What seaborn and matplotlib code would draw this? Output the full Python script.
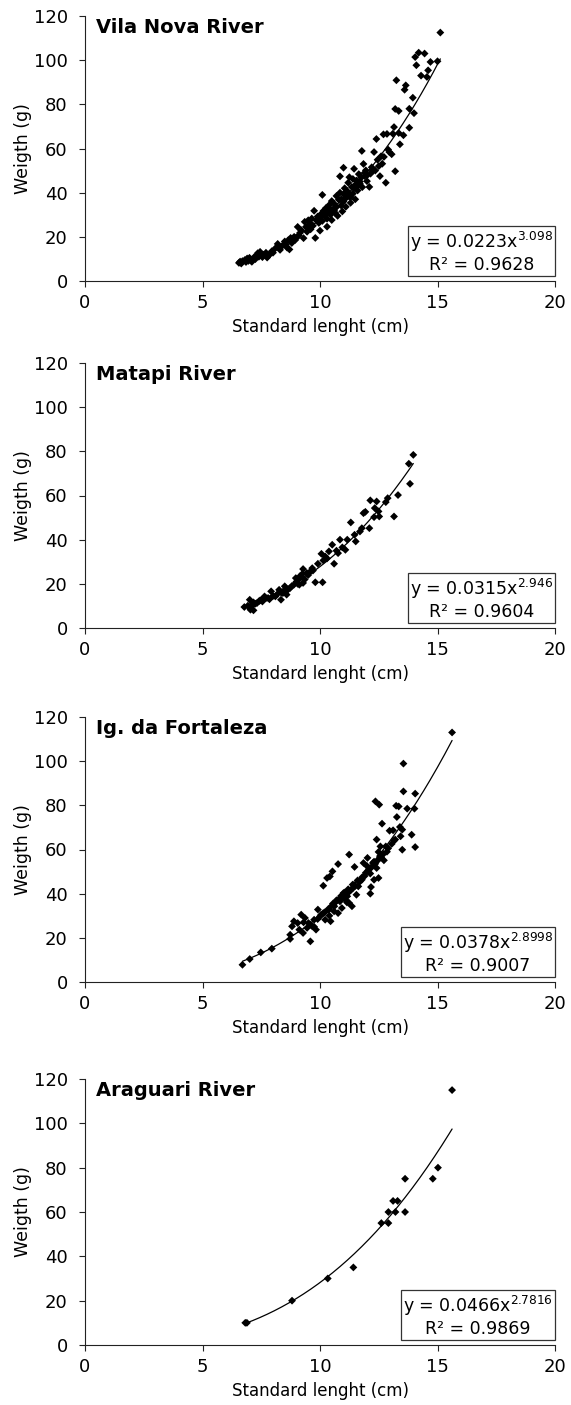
import numpy as np
import pandas as pd
import matplotlib
matplotlib.use("Agg")
import matplotlib.pyplot as plt
import seaborn as sns

# ---------------- data ----------------
sites = ["Vila Nova River", "Matapi River", "Ig. da Fortaleza", "Araguari River"]
fit_a = [0.0223, 0.0315, 0.0378, 0.0466]
fit_b = [3.098, 2.946, 2.8998, 2.7816]
fit_labels = ["y = 0.0223x$^{3.098}$\nR² = 0.9628",
              "y = 0.0315x$^{2.946}$\nR² = 0.9604",
              "y = 0.0378x$^{2.8998}$\nR² = 0.9007",
              "y = 0.0466x$^{2.7816}$\nR² = 0.9869"]

vn_length = [6.55, 6.6, 6.65, 6.7, 6.8, 6.85, 6.9, 6.95, 7.0, 7.05,
             7.1, 7.2, 7.25, 7.3, 7.35, 7.4, 7.45, 7.5, 7.55, 7.6, 7.7, 7.75, 7.8, 7.85, 7.95, 8.0,
             8.1, 8.2, 8.25, 8.3, 8.4, 8.5, 8.55, 8.6, 8.65, 8.7, 8.75, 8.8, 8.9, 8.95, 9.0,
             9.05, 9.1, 9.15, 9.2, 9.3, 9.35, 9.4, 9.45, 9.5, 9.55, 9.6, 9.65, 9.7, 9.75, 9.8, 9.85, 9.9, 9.95, 10.0, 10.0,
             10.05, 10.1, 10.1, 10.15, 10.2, 10.25, 10.3, 10.3, 10.35, 10.4, 10.45, 10.5, 10.5, 10.55, 10.6, 10.65,
             10.7, 10.7, 10.75, 10.8, 10.85, 10.85, 10.9, 10.95, 11.0, 11.0, 11.0,
             11.05, 11.1, 11.1, 11.15, 11.2, 11.25, 11.25, 11.3, 11.35, 11.4, 11.4, 11.45, 11.5, 11.5, 11.55, 11.6,
             11.65, 11.7, 11.75, 11.78, 11.8, 11.85, 11.9, 11.95, 12.0, 12.0,
             12.1, 12.15, 12.2, 12.3, 12.35, 12.4, 12.45, 12.5, 12.55, 12.6, 12.65, 12.7, 12.72, 12.8, 12.85, 12.9, 12.95, 13.05,
             13.1, 13.15, 13.2, 13.2, 13.25, 13.35, 13.35, 13.4, 13.55, 13.6, 13.65, 13.8, 13.8, 13.95, 14.0, 14.05,
             14.1, 14.2, 14.3, 14.45, 14.55, 14.6, 14.7, 15.0, 15.12,
             9.6, 9.9, 10.2, 10.4, 10.6, 10.9, 11.2, 11.45, 11.7, 12.25, 10.0, 10.45, 10.95, 11.3, 11.6, 11.9]
vn_weight = [8.2, 8.8, 7.9, 9.0, 9.5, 8.6, 10.2, 9.1, 10.5, 9.3,
             8.7, 10.8, 9.9, 11.5, 12.6, 11.0, 13.2, 12.2, 10.8, 11.9, 12.8, 10.6, 11.4, 12.0, 13.5, 12.8,
             14.8, 16.8, 15.2, 14.1, 16.0, 17.9, 16.4, 15.1, 18.5, 14.3, 19.5, 17.2, 20.0, 18.6, 19.8,
             24.5, 20.6, 21.8, 23.0, 19.4, 26.8, 24.5, 22.3, 27.5, 25.6, 23.4, 28.3, 25.0, 31.8, 19.5, 27.4, 29.2, 26.3, 28.5, 22.8,
             30.4, 39.0, 27.2, 31.8, 29.6, 33.0, 28.2, 24.6, 31.0, 34.5, 30.0, 36.2, 27.6, 32.4, 35.0, 30.8,
             38.5, 33.5, 29.5, 36.8, 40.0, 47.4, 34.2, 31.5, 39.4, 51.3, 36.0,
             42.0, 37.5, 33.6, 40.8, 44.5, 38.2, 47.0, 35.4, 42.6, 46.2, 39.6, 50.8, 43.5, 37.0, 45.5, 41.0,
             48.4, 44.0, 46.8, 58.9, 42.5, 53.0, 47.5, 50.1, 45.2, 47.8,
             42.6, 48.6, 51.5, 58.4, 50.0, 64.3, 54.9, 52.0, 47.5, 56.5, 53.1, 66.4, 56.2, 44.5, 66.6, 59.5, 58.4, 57.4,
             66.7, 69.7, 77.9, 49.7, 90.9, 77.0, 67.0, 61.9, 66.0, 86.6, 88.6, 78.0, 69.4, 83.0, 76.0, 101.4,
             97.7, 103.4, 93.0, 103.0, 92.4, 95.4, 99.2, 99.5, 112.5,
             26.0, 28.0, 31.0, 33.0, 32.0, 37.0, 40.0, 42.0, 45.0, 50.0, 27.0, 30.5, 36.5, 38.0, 43.0, 49.0]

mt_length = [13.97, 13.78, 13.83, 13.32, 12.88, 12.8, 13.15, 12.14, 12.41, 11.85, 11.93, 12.33, 12.49, 12.52,
             12.3, 12.1, 11.78, 11.7, 11.31, 11.47, 11.52, 11.16, 11.08, 10.85, 10.77, 10.6, 10.52, 10.38,
             10.22, 10.06, 10.14, 9.91, 10.11, 9.8, 9.67, 9.59, 9.44, 9.28, 9.2, 9.08, 8.97, 8.89, 9.12, 9.28,
             8.73, 8.5, 8.42, 8.26, 8.58, 8.34, 8.1, 7.92, 7.79, 7.64, 7.51, 7.4, 7.32, 7.17, 7.01, 6.93, 6.78,
             7.04, 7.17, 7.09, 9.0, 9.15, 9.35, 9.5, 9.7, 8.8, 8.65, 8.45, 8.2, 8.0, 7.85, 7.7, 7.55, 7.25,
             7.1, 10.3, 10.7, 10.95, 9.05, 9.25, 8.55, 8.35, 7.45, 7.6]
mt_weight = [78.4, 74.4, 65.3, 60.2, 58.8, 57.0, 50.5, 57.8, 57.3, 52.0, 52.6, 54.3, 52.8, 50.5,
             50.2, 45.2, 45.2, 43.7, 47.8, 42.2, 39.2, 40.0, 35.4, 40.0, 33.9, 29.1, 37.7, 34.7,
             32.4, 33.6, 30.6, 29.1, 20.7, 20.7, 27.1, 25.6, 24.9, 26.7, 23.4, 21.9, 22.6, 19.6, 19.6, 20.4,
             18.1, 18.9, 15.8, 17.3, 15.1, 12.8, 14.3, 16.6, 13.6, 14.3, 12.8, 12.1, 11.3, 11.6, 12.8, 10.1, 9.5,
             8.3, 8.0, 9.8, 21.0, 23.5, 22.0, 24.0, 26.0, 19.0, 17.5, 16.5, 15.5, 14.5, 13.0, 13.5, 12.0, 11.0,
             10.5, 31.5, 35.0, 36.5, 20.0, 24.5, 18.0, 16.0, 12.5, 13.2]

fz_length = [15.62, 13.55, 12.36, 12.52, 13.24, 13.35, 13.55, 14.05, 13.71, 14.02, 13.27, 12.64, 13.4, 12.96,
             13.11, 13.5, 13.9, 13.2, 13.43, 12.41, 12.57, 12.8, 14.05, 13.5, 12.49, 12.72, 12.02, 12.25,
             12.41, 11.85, 12.14, 12.49, 12.3, 12.17, 12.14, 11.47, 11.24, 10.77, 10.53, 10.42, 10.3, 10.14,
             11.0, 11.39, 11.08, 10.85, 10.61, 10.38, 10.14, 9.91, 10.0, 9.75, 9.51, 9.36, 9.2, 9.05, 8.89,
             8.81, 8.73, 8.73, 9.12, 9.28, 9.59, 9.67, 9.83, 10.45, 10.22, 11.16, 11.55, 11.63, 11.78, 11.24,
             11.36, 10.93, 10.77, 6.7, 7.01, 7.48, 7.95,
             10.2, 10.35, 10.5, 10.65, 10.8, 10.95, 11.1, 11.25, 11.4, 11.5, 11.7, 11.9, 12.05, 12.2, 12.35,
             12.45, 12.6, 12.7, 12.9, 13.05, 10.55, 10.7, 10.9, 11.05, 11.3, 11.45, 11.6, 11.95, 12.1, 12.3,
             9.45, 9.6, 9.9, 10.05, 10.6, 11.2, 11.8, 12.0, 12.55, 12.85, 13.15, 9.3, 9.75, 10.4, 11.15]
fz_weight = [113.0, 98.9, 81.8, 80.3, 79.8, 79.5, 86.3, 85.3, 78.5, 78.5, 74.7, 71.7, 70.2, 68.5,
             68.7, 69.0, 66.7, 64.5, 66.0, 64.5, 61.4, 61.4, 61.1, 59.9, 58.9, 55.1, 56.2, 53.9,
             51.6, 53.9, 49.1, 47.1, 46.3, 43.0, 40.0, 52.1, 57.7, 53.4, 50.1, 47.8, 47.1, 43.6,
             40.3, 44.1, 37.3, 36.5, 34.3, 32.8, 31.2, 32.8, 29.7, 28.2, 26.7, 29.0, 30.5, 26.7, 27.5,
             25.2, 21.4, 19.5, 23.7, 22.2, 18.4, 25.2, 23.7, 27.5, 28.2, 38.8, 39.5, 43.3, 46.3, 35.8,
             34.3, 33.5, 31.2, 7.8, 10.4, 13.4, 15.1,
             31.5, 33.0, 34.5, 36.0, 37.5, 38.5, 39.5, 41.0, 42.5, 43.5, 45.5, 48.0, 50.5, 52.0, 53.5,
             55.0, 56.5, 58.0, 60.5, 62.5, 35.5, 37.0, 39.0, 40.5, 41.5, 44.0, 46.0, 49.5, 51.5, 54.5,
             24.5, 26.0, 28.5, 30.5, 32.0, 42.0, 47.5, 52.5, 57.0, 59.0, 64.0, 27.0, 25.0, 30.0, 36.0]

ar_length = [15.62, 15.02, 14.8, 13.62, 13.62, 13.3, 13.11, 13.21, 12.91, 12.91, 12.61, 11.42, 10.33, 8.81, 6.89, 6.82]
ar_weight = [115.0, 80.0, 75.0, 75.0, 60.0, 65.0, 65.0, 60.0, 60.0, 55.0, 55.0, 35.0, 30.0, 20.0, 10.0, 10.0]

lengths = [vn_length, mt_length, fz_length, ar_length]
weights = [vn_weight, mt_weight, fz_weight, ar_weight]

x_ticks = [0, 5, 10, 15, 20]
y_ticks = [0, 20, 40, 60, 80, 100, 120]

# ---------------- figure ----------------
sns.set_theme(style="ticks")
plt.rcParams["font.family"] = ["DejaVu Sans"]
plt.rcParams["text.color"] = "black"
plt.rcParams["axes.labelcolor"] = "black"

W, H = 571, 1405
fig = plt.figure(figsize=(W / 100, H / 100), dpi=100)

panel_px = [(16, 281), (363, 628), (717, 982), (1079, 1345)]
left_px, right_px = 85, 555

for i, site in enumerate(sites):
    top, bot = panel_px[i]
    ax = fig.add_axes([left_px / W, 1 - bot / H, (right_px - left_px) / W, (bot - top) / H])
    df = pd.DataFrame({"length": lengths[i], "weight": weights[i]})
    sns.scatterplot(data=df, x="length", y="weight", ax=ax, marker="D", s=16,
                    color="black", edgecolor="none", linewidth=0, zorder=3)
    xs = np.linspace(min(lengths[i]), max(lengths[i]), 200)
    fit = pd.DataFrame({"length": xs, "weight": fit_a[i] * xs ** fit_b[i]})
    sns.lineplot(data=fit, x="length", y="weight", ax=ax, color="black", lw=0.9, zorder=2)

    ax.set_xlim(0, 20)
    ax.set_ylim(0, 120)
    ax.set_xticks(x_ticks)
    ax.set_yticks(y_ticks)
    ax.tick_params(axis="both", labelsize=13, color="#222222", length=4.5, width=0.8,
                   labelcolor="black")
    ax.tick_params(axis="x", pad=5)
    ax.tick_params(axis="y", pad=8)
    for s in ["top", "right"]:
        ax.spines[s].set_visible(False)
    for s in ["left", "bottom"]:
        ax.spines[s].set_color("#222222")
        ax.spines[s].set_linewidth(0.8)
    ax.set_xlabel("Standard lenght (cm)", fontsize=12, labelpad=4)
    ax.set_ylabel("Weigth (g)", fontsize=12.5, labelpad=1)
    ax.text(0.024, 0.955, site, transform=ax.transAxes, fontsize=14, fontweight="bold",
            ha="left", va="center", color="black")
    ax.text(0.996, 0.025, fit_labels[i], transform=ax.transAxes, fontsize=12.5,
            ha="right", va="bottom", multialignment="center", linespacing=1.15,
            color="black",
            bbox=dict(boxstyle="square,pad=0.12", fc="white", ec="#333333", lw=0.9), zorder=5)

fig.savefig("out.png", dpi=100)
